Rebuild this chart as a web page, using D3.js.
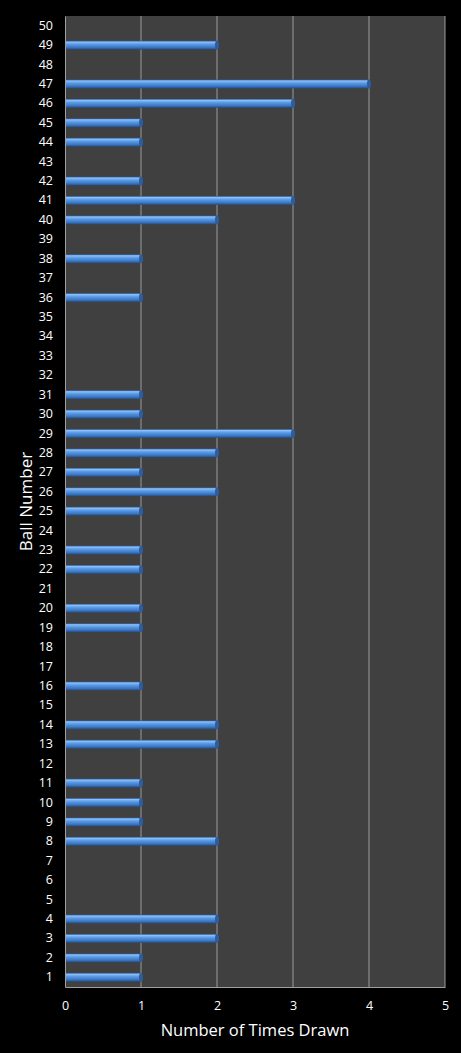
<!DOCTYPE html>
<html lang="en">
<head>
  <meta charset="UTF-8">
  <title>Ball Number</title>
  <style>
    html, body { margin: 0; padding: 0; background: #000; }
    svg { display: block; }
    .tick text { fill: #fff; font-family: "Open Sans", "DejaVu Sans", sans-serif; font-size: 12.5px; }
    .axis-title { fill: #fff; font-family: "Open Sans", "DejaVu Sans", sans-serif; font-size: 16.5px; }
  </style>
</head>
<body>
  <div id="chart"></div>
  <script src="https://d3js.org/d3.v7.min.js"></script>
  <script>
    // ball numbers 1..50 and how many times each was drawn
    const balls = d3.range(1, 51)
    const timesDrawn = [1, 1, 2, 2, 0, 0, 0, 2, 1, 1,
                        1, 0, 2, 2, 0, 1, 0, 0, 1, 1,
                        0, 1, 1, 0, 1, 2, 1, 2, 3, 1,
                        1, 0, 0, 0, 0, 1, 0, 1, 0, 2,
                        3, 1, 0, 1, 1, 3, 4, 0, 2, 0]
    const xTicks = [0, 1, 2, 3, 4, 5]

    const W = 461, H = 1053
    const m = { top: 16, right: 16, bottom: 66, left: 65 }
    const w = W - m.left - m.right
    const h = H - m.top - m.bottom

    const data = balls.map((b, i) => ({ ball: b, count: timesDrawn[i] }))

    const x = d3.scaleLinear().domain([0, 5]).range([0, w])
    const y = d3.scaleBand()
      .domain(balls.slice().reverse())
      .range([0, h])
      .paddingInner(0.55)
      .paddingOuter(0.275)

    const svgRoot = d3.select('#chart').append('svg')
      .attr('width', W)
      .attr('height', H)

    const defs = svgRoot.append('defs')
    const grad = defs.append('linearGradient')
      .attr('id', 'barGrad')
      .attr('x1', 0).attr('y1', 0).attr('x2', 0).attr('y2', 1)
    grad.append('stop').attr('offset', '0%').attr('stop-color', '#2c5c9c')
    grad.append('stop').attr('offset', '15%').attr('stop-color', '#8cc0f8')
    grad.append('stop').attr('offset', '40%').attr('stop-color', '#5a9ae6')
    grad.append('stop').attr('offset', '75%').attr('stop-color', '#3d78c4')
    grad.append('stop').attr('offset', '100%').attr('stop-color', '#234d85')

    const svg = svgRoot.append('g')
      .attr('transform', `translate(${m.left}, ${m.top})`)

    // plot background
    svg.append('rect')
      .attr('width', w)
      .attr('height', h)
      .attr('fill', '#404040')

    // vertical gridlines
    svg.append('g')
      .selectAll('line')
      .data(xTicks.slice(1))
      .enter()
      .append('line')
      .attr('x1', d => x(d)).attr('x2', d => x(d))
      .attr('y1', 0).attr('y2', h)
      .attr('stroke', '#9a9a9a')
      .attr('stroke-width', 1)

    // bars
    const bars = svg.append('g')
      .selectAll('g')
      .data(data.filter(d => d.count > 0))
      .enter()
      .append('g')
      .attr('transform', d => `translate(0, ${y(d.ball)})`)

    bars.append('rect')
      .attr('x', 1)
      .attr('y', 0)
      .attr('width', d => x(d.count) - 1)
      .attr('height', y.bandwidth())
      .attr('fill', 'url(#barGrad)')

    // darker rounded end cap
    bars.append('ellipse')
      .attr('cx', d => x(d.count))
      .attr('cy', y.bandwidth() / 2)
      .attr('rx', 2)
      .attr('ry', y.bandwidth() / 2)
      .attr('fill', '#2d5d9e')

    // axes
    const xAxis = svg.append('g')
      .attr('transform', `translate(0, ${h})`)
      .call(d3.axisBottom(x).tickValues(xTicks).tickFormat(d3.format('d')).tickSize(0).tickPadding(14))
    xAxis.select('.domain').attr('stroke', '#a0a0a0')

    const yAxis = svg.append('g')
      .call(d3.axisLeft(y).tickSize(0).tickPadding(12))
    yAxis.select('.domain').attr('stroke', '#a0a0a0')

    // axis titles
    svgRoot.append('text')
      .attr('class', 'axis-title')
      .attr('x', m.left + w / 2)
      .attr('y', 1036)
      .attr('text-anchor', 'middle')
      .text('Number of Times Drawn')

    svgRoot.append('text')
      .attr('class', 'axis-title')
      .attr('transform', `translate(32, ${m.top + h / 2}) rotate(-90)`)
      .attr('text-anchor', 'middle')
      .style('font-size', '17px')
      .text('Ball Number')
  </script>
</body>
</html>
